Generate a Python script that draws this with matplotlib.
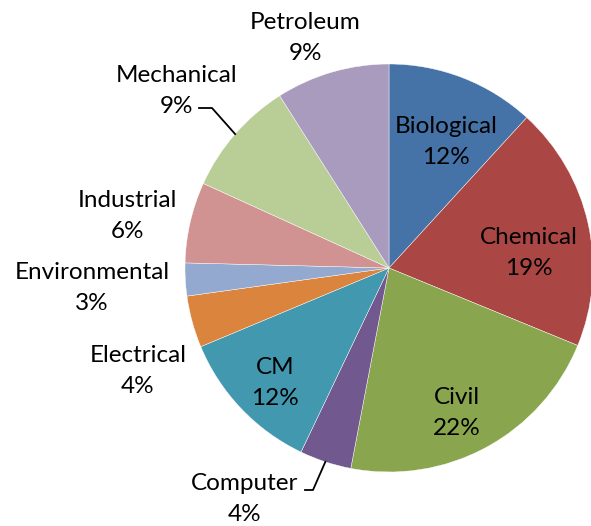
import matplotlib
matplotlib.use("Agg")
import matplotlib.pyplot as plt
import numpy as np

plt.rcParams['font.family'] = ['Lato', 'DejaVu Sans']

categories = ["Biological", "Chemical", "Civil", "Computer", "CM",
              "Electrical", "Environmental", "Industrial", "Mechanical", "Petroleum"]
shares = [11.8, 19.4, 21.8, 4.1, 11.6, 4.1, 2.6, 6.4, 9.2, 9.0]
pct_labels = ["12%", "19%", "22%", "4%", "12%", "4%", "3%", "6%", "9%", "9%"]
colors = ["#4572A7", "#AA4643", "#89A54E", "#71588F", "#4198AF",
          "#DB843D", "#93A9CF", "#D19392", "#B9CD96", "#A99BBD"]

# label centres in pixels of the 591x526 picture, pie centre (389,268), r=204
cx, cy, R = 389, 268, 204
label_px = [(446, 142), (529, 253), (457, 413), (245, 499), (275, 383),
            (138, 371), (92, 288), (127, 216), (177, 91), (305, 38)]
# categories that get a bent leader line: (text end x, elbow x) in pixels
leaders = {"Mechanical": (199, 212), "Computer": (305, 313)}

W, H = 591, 526
fig = plt.figure(figsize=(W / 100, H / 100), dpi=100)
ax = fig.add_axes([0, 0, 1, 1])
wedges, _ = ax.pie(shares, colors=colors, startangle=90, counterclock=False,
                   radius=1, wedgeprops=dict(edgecolor="white", linewidth=0.3))
ax.set_aspect("auto")
ax.set_xlim(-cx / R, (W - cx) / R)
ax.set_ylim(-(H - cy) / R, cy / R)
ax.axis("off")

def to_data(px, py):
    return (px - cx) / R, (cy - py) / R

for i, name in enumerate(categories):
    x, y = to_data(*label_px[i])
    ax.text(x, y, name + "\n" + pct_labels[i], ha="center", va="center",
            fontsize=17.5, linespacing=1.55, color="black")

for i, name in enumerate(categories):
    if name in leaders:
        w = wedges[i]
        mid = np.deg2rad((w.theta1 + w.theta2) / 2)
        ex, ey = np.cos(mid), np.sin(mid)
        t_end, elbow = leaders[name]
        ly = label_px[i][1] + (17 if name == "Mechanical" else -9)
        x0, y0 = to_data(t_end, ly)
        x1, _ = to_data(elbow, ly)
        ax.plot([x0, x1, ex], [y0, y0, ey], color="black", linewidth=1.3)

fig.savefig("out.png", dpi=100)
